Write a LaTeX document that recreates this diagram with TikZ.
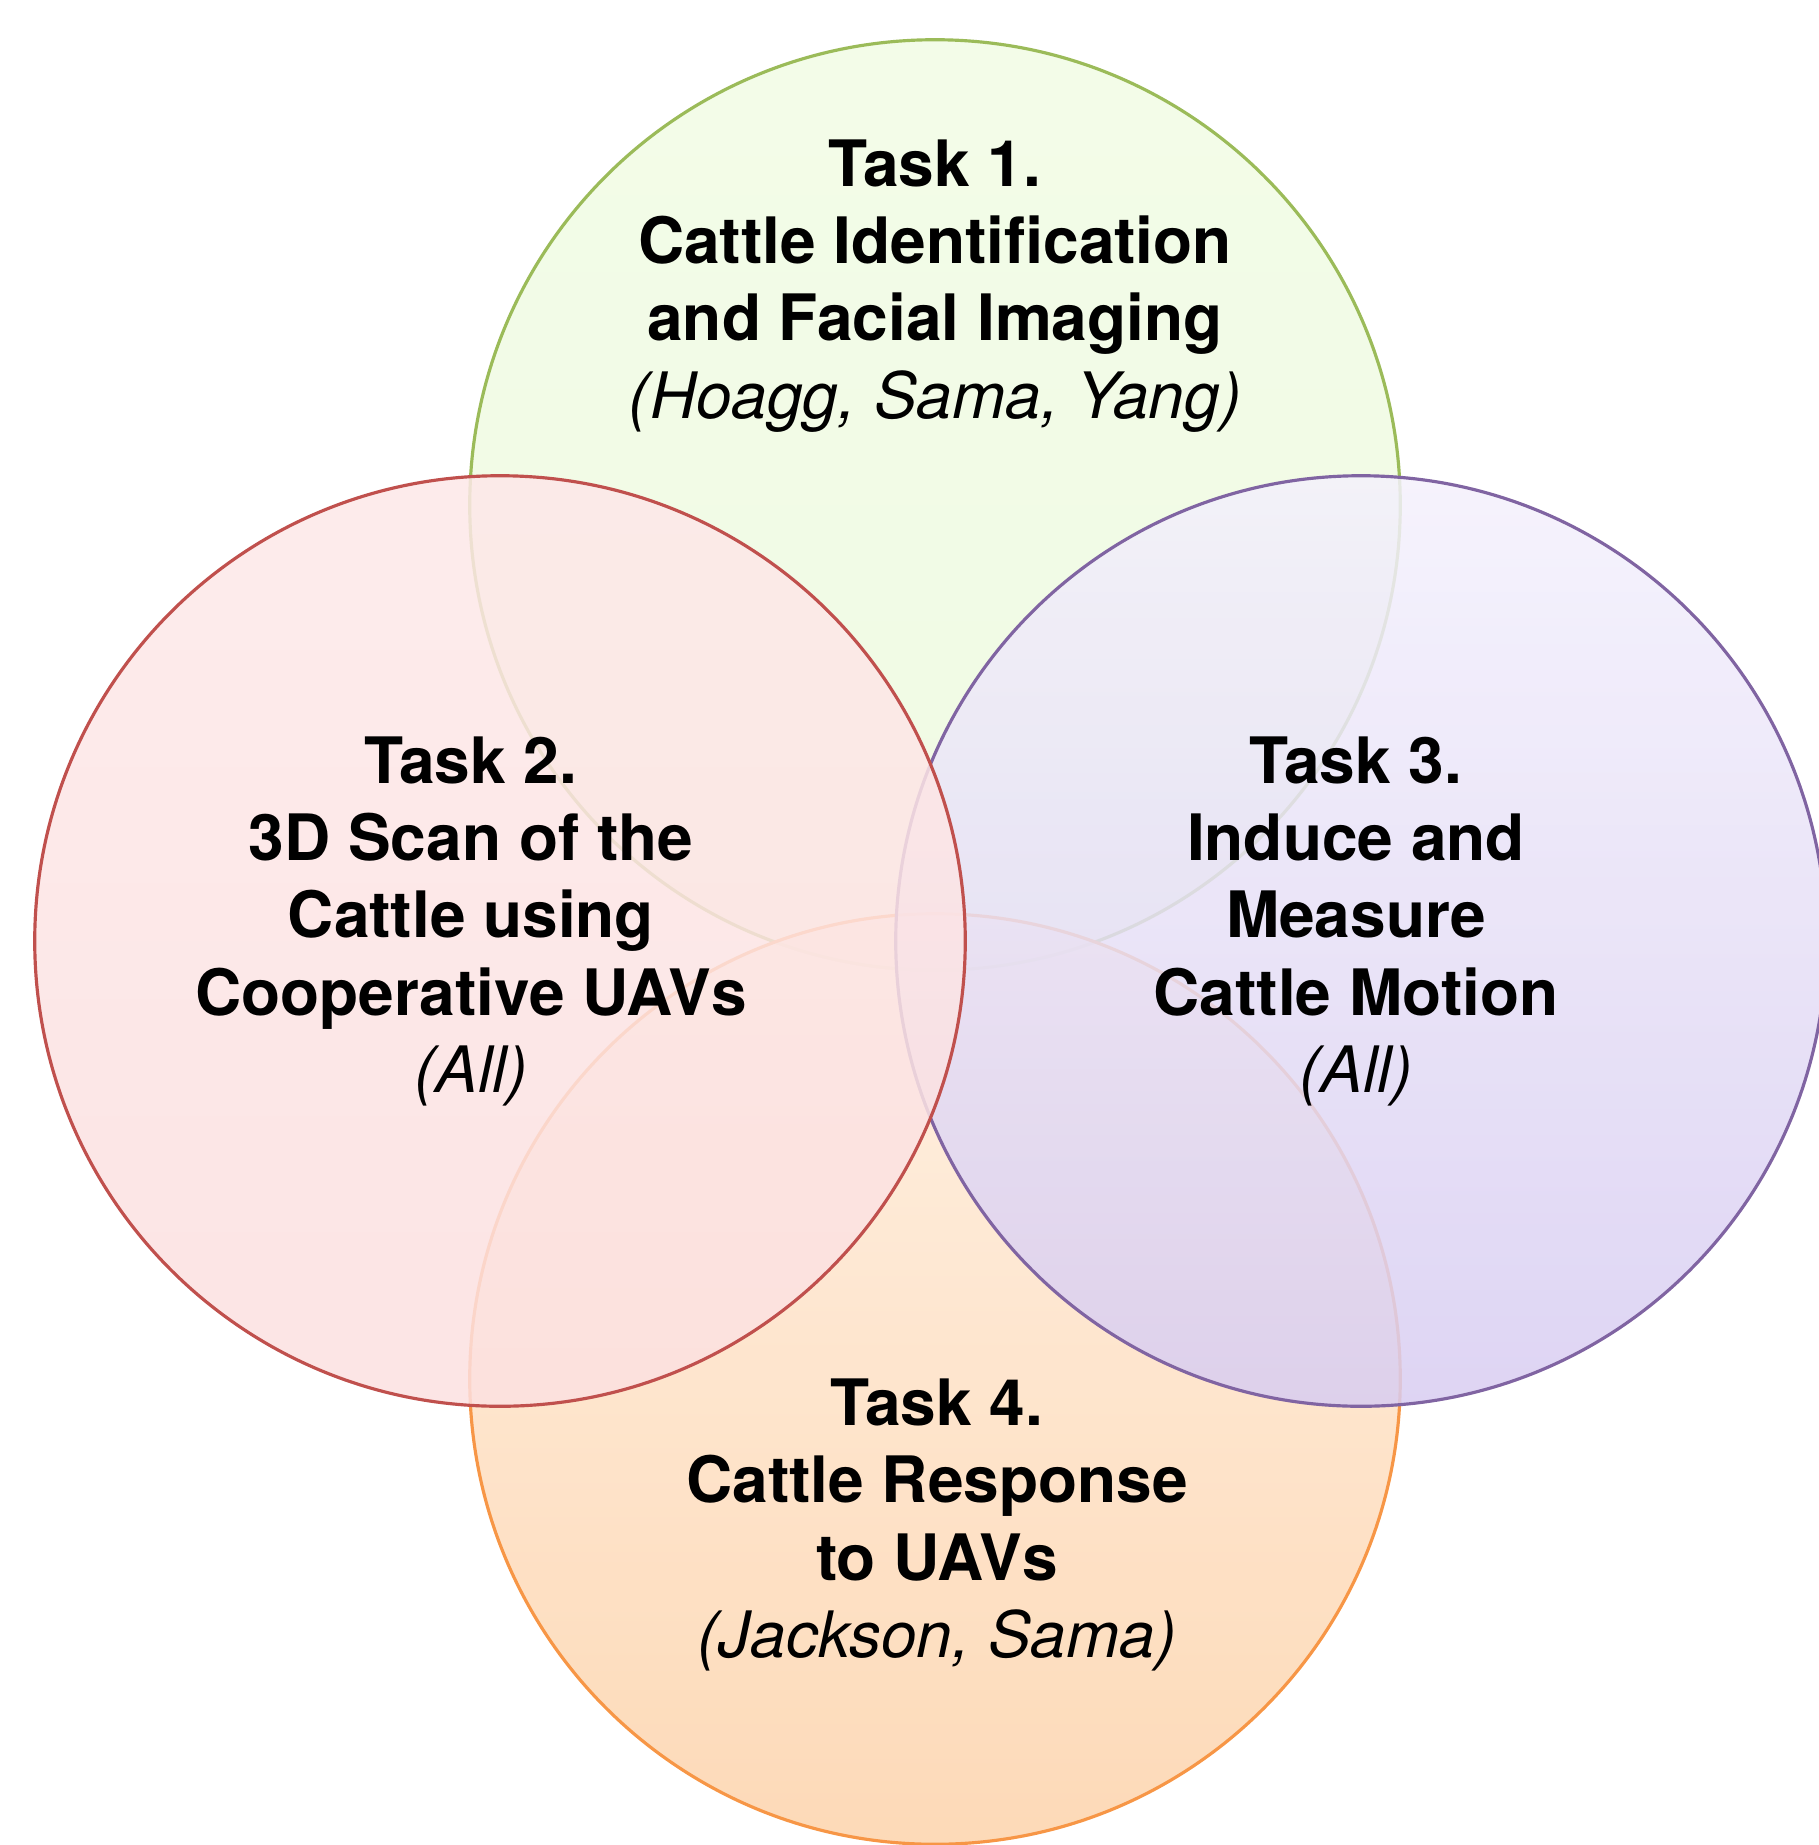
\documentclass[tikz,border=0pt]{standalone}
\usepackage{fontspec}
\setmainfont{TeX Gyre Heros}
\begin{document}
\begin{tikzpicture}[x=0.01cm,y=-0.01cm,
  venn/.style={circle, minimum size=9.3cm, inner sep=0pt, line width=0.9pt, fill opacity=0.85},
  label/.style={align=center, anchor=base, font=\fontsize{18.2pt}{21.9pt}\selectfont\bfseries, inner sep=0pt}]
\definecolor{gline}{HTML}{9BBB59}
\definecolor{rline}{HTML}{C0504D}
\definecolor{pline}{HTML}{8064A2}
\definecolor{oline}{HTML}{F79646}
\definecolor{gtop}{HTML}{F1FBE4}
\definecolor{gbot}{HTML}{EEF9E0}
\definecolor{rtop}{HTML}{FDE8E8}
\definecolor{rbot}{HTML}{FCE0E0}
\definecolor{ptop}{HTML}{F4F1FC}
\definecolor{pbot}{HTML}{D8CDF1}
\definecolor{otop}{HTML}{FFEEDE}
\definecolor{obot}{HTML}{FDD3AB}
\useasboundingbox (0,0) rectangle (1819,1845);
\node[venn, draw=gline, top color=gtop, bottom color=gbot] (c1) at (935,505) {};
\node[venn, draw=oline, top color=otop, bottom color=obot] (c4) at (935,1379) {};
\node[venn, draw=pline, top color=ptop, bottom color=pbot] (c3) at (1361,941) {};
\node[venn, draw=rline, top color=rtop, bottom color=rbot] (c2) at (500,941) {};
\node[label] (t1) at (935,418) {Task 1.\\Cattle Identification\\and Facial Imaging\\{\mdseries\itshape (Hoagg, Sama, Yang)}};
\node[label] (t2) at (471,1092) {Task 2.\\3D Scan of the\\Cattle using\\Cooperative UAVs\\{\mdseries\itshape (All)}};
\node[label] (t3) at (1356,1092) {Task 3.\\Induce and\\Measure\\Cattle Motion\\{\mdseries\itshape (All)}};
\node[label] (t4) at (937,1657) {Task 4.\\Cattle Response\\to UAVs\\{\mdseries\itshape (Jackson, Sama)}};
\end{tikzpicture}
\end{document}
